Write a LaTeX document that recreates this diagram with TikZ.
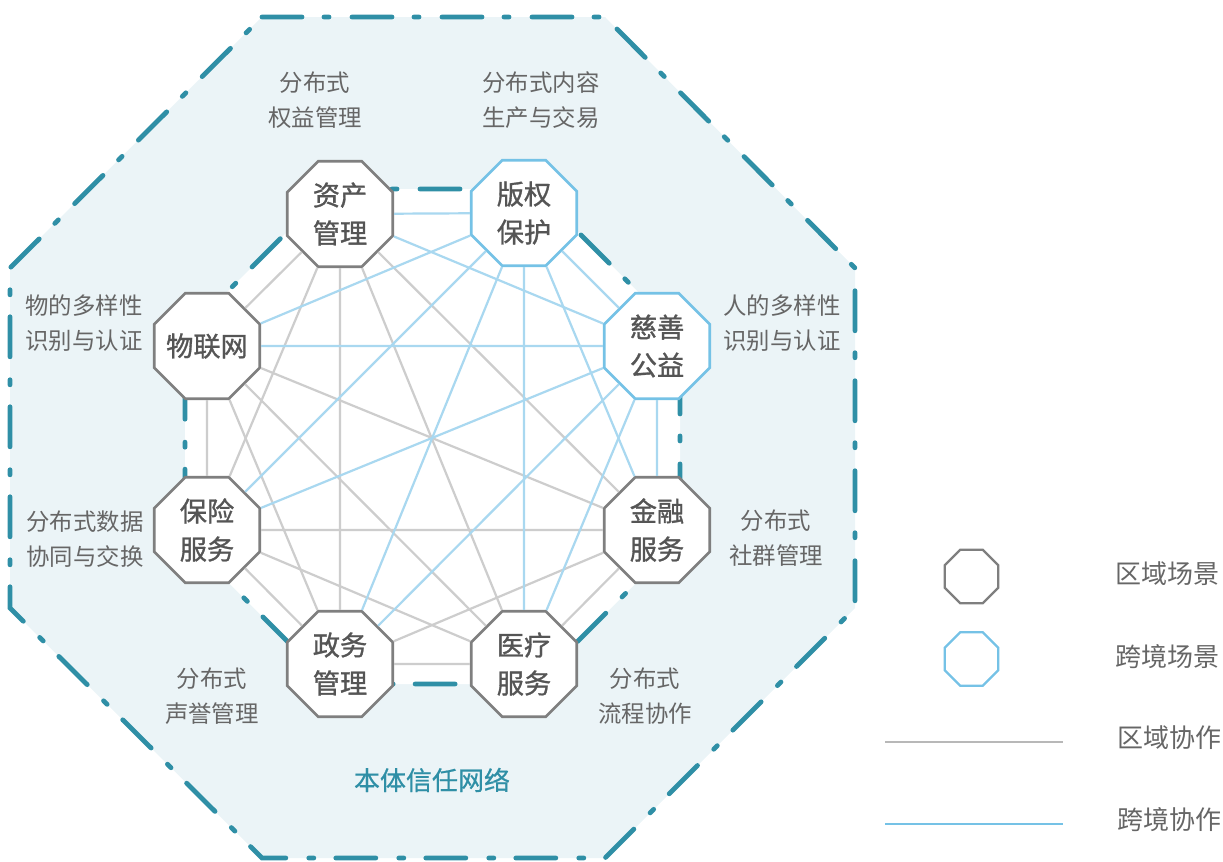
\documentclass[tikz,border=0pt]{standalone}
\usepackage{fontspec}
\setmainfont{Noto Sans CJK SC}
\newfontfamily\nodefont{Noto Sans CJK SC}[FakeBold=1.1]
\newfontfamily\titlefont{Noto Sans CJK SC}[FakeBold=0.6]
\usetikzlibrary{shapes.geometric}
\definecolor{ringteal}{HTML}{2F8FA6}
\definecolor{outerfill}{HTML}{EBF4F7}
\definecolor{nodegray}{HTML}{7F7F7F}
\definecolor{nodeblue}{HTML}{75C2E6}
\definecolor{edgegray}{HTML}{CDCDCD}
\definecolor{edgeblue}{HTML}{A9D8F0}
\definecolor{nodetext}{HTML}{555555}
\definecolor{labeltext}{HTML}{666666}
\begin{document}
\begin{tikzpicture}[x=0.5pt,y=-0.5pt,
  ring/.style={draw=ringteal, line width=2.4pt, line cap=round,
    dash pattern=on 20pt off 11pt on 2.5pt off 11.5pt},
  scen/.style={regular polygon, regular polygon sides=8, minimum size=57pt,
    inner sep=0pt, fill=white, line width=1.35pt, align=center,
    font=\nodefont\fontsize{13.6}{19}\selectfont, text=nodetext},
  regscen/.style={scen, draw=nodegray},
  crossscen/.style={scen, draw=nodeblue},
  legoct/.style={regular polygon, regular polygon sides=8, minimum size=29pt,
    inner sep=0pt, line width=1.15pt},
  grayedge/.style={draw=edgegray, line width=1.1pt},
  blueedge/.style={draw=edgeblue, line width=1.1pt},
  lbl/.style={align=center, font=\fontsize{11.7}{17.7}\selectfont, text=labeltext, inner sep=0pt},
  legtxt/.style={font=\fontsize{13}{16}\selectfont, text=labeltext, inner sep=0pt},
  title/.style={font=\titlefont\fontsize{13}{16}\selectfont, text=ringteal, inner sep=0pt}
]
\useasboundingbox (0,0) rectangle (1223,862);

% outer region
\fill[outerfill] (262,17) -- (605,17) -- (855,268) -- (855,608) -- (605,858)
  -- (262,858) -- (10,608) -- (10,268) -- cycle;
\draw[ring] (262,17) -- (605,17) -- (855,268) -- (855,608) -- (605,858)
  -- (262,858) -- (10,608) -- (10,268) -- cycle;

% inner ring
\fill[white] (330,189) -- (535,189) -- (680,334) -- (680,539) -- (535,684)
  -- (330,684) -- (185,539) -- (185,334) -- cycle;
\draw[ring] (330,189) -- (535,189) -- (680,334) -- (680,539) -- (535,684)
  -- (330,684) -- (185,539) -- (185,334) -- cycle;

% scenario nodes
\node[regscen]   (n1) at (340,214) {资产\\管理};
\node[crossscen] (n2) at (524,213) {版权\\保护};
\node[crossscen] (n3) at (657,346) {慈善\\公益};
\node[regscen]   (n4) at (657,530) {金融\\服务};
\node[regscen]   (n5) at (524,664) {医疗\\服务};
\node[regscen]   (n6) at (340,664) {政务\\管理};
\node[regscen]   (n7) at (207,530) {保险\\服务};
\node[regscen]   (n8) at (207,346) {\makebox[0pt]{物联网}};

% regional collaboration
\foreach \a/\b in {1/4,1/5,1/6,1/7,1/8,4/5,4/6,4/7,4/8,5/6,5/7,5/8,6/7,6/8,7/8}
  \draw[grayedge] (n\a) -- (n\b);
% cross-border collaboration
\foreach \a/\b in {2/1,2/3,2/4,2/5,2/6,2/7,2/8,3/1,3/4,3/5,3/6,3/7,3/8}
  \draw[blueedge] (n\a) -- (n\b);

% outer labels
\node[lbl] (t1) at (315,100) {分布式\\权益管理};
\node[lbl] (t2) at (541,100) {分布式内容\\生产与交易};
\node[lbl] (t3) at (84,323) {物的多样性\\识别与认证};
\node[lbl] (t4) at (782,323) {人的多样性\\识别与认证};
\node[lbl] (t5) at (85,539) {分布式数据\\协同与交换};
\node[lbl] (t6) at (776,538) {分布式\\社群管理};
\node[lbl] (t7) at (212,696) {分布式\\声誉管理};
\node[lbl] (t8) at (645,696) {分布式\\流程协作};
\node[title] (tt) at (432,780) {本体信任网络};

% legend
\node[legoct, draw=nodegray] (lg1) at (971.5,576.5) {};
\node[legoct, draw=nodeblue] (lg2) at (971.5,659) {};
\coordinate (la1) at (885,742);
\coordinate (lb1) at (1063,742);
\coordinate (la2) at (885,824);
\coordinate (lb2) at (1063,824);
\draw[draw=edgegray!90!black, line width=1pt] (la1) -- (lb1);
\draw[draw=nodeblue, line width=1.2pt] (la2) -- (lb2);
\node[legtxt] (lt1) at (1167,574) {区域场景};
\node[legtxt] (lt2) at (1167,657) {跨境场景};
\node[legtxt] (lt3) at (1169,738) {区域协作};
\node[legtxt] (lt4) at (1169,820) {跨境协作};
\end{tikzpicture}
\end{document}
